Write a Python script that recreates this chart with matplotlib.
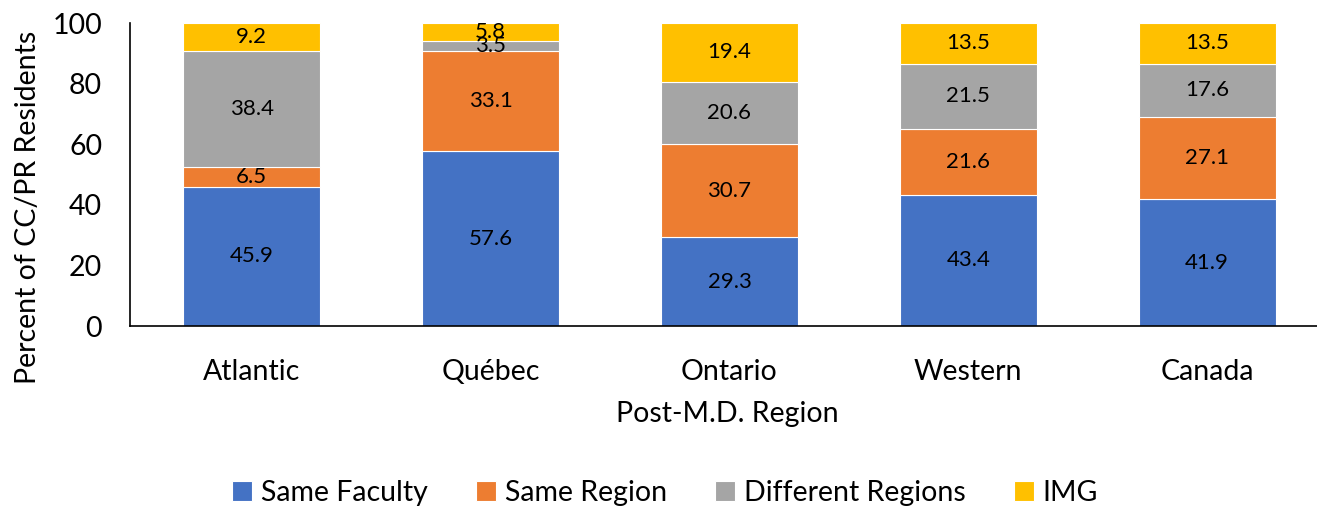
import numpy as np
import matplotlib.pyplot as plt

plt.rcParams['font.family'] = ['Lato', 'DejaVu Sans']

# ---- data ----
regions = ["Atlantic", "Québec", "Ontario", "Western", "Canada"]
same_faculty = [45.9, 57.6, 29.3, 43.4, 41.9]
same_region = [6.5, 33.1, 30.7, 21.6, 27.1]
diff_regions = [38.4, 3.5, 20.6, 21.5, 17.6]
img = [9.2, 5.8, 19.4, 13.5, 13.5]

series = [
    ("Same Faculty", same_faculty, "#4472C4"),
    ("Same Region", same_region, "#ED7D31"),
    ("Different Regions", diff_regions, "#A5A5A5"),
    ("IMG", img, "#FFC000"),
]

fig = plt.figure(figsize=(13.17, 5.07), dpi=100)
ax = fig.add_axes([0.0987, 0.357, 0.9013, 0.5976])

x = np.arange(len(regions))
bottom = np.zeros(len(regions))
handles = []
for name, vals, col in series:
    vals = np.array(vals)
    bars = ax.bar(x, vals, width=0.573, bottom=bottom, color=col,
                  edgecolor="white", linewidth=0.8, label=name)
    handles.append(bars)
    for xi, b, v in zip(x, bottom, vals):
        ax.text(xi, b + v / 2, f"{v:.1f}", ha="center", va="center",
                fontsize=16, color="black")
    bottom += vals

ax.set_xlim(-0.51, 4.46)
ax.set_ylim(0, 100)
ax.set_yticks(range(0, 101, 20))
ax.set_xticks(x)
ax.set_xticklabels(regions)
ax.tick_params(axis="both", length=0, labelsize=20.5)
ax.tick_params(axis="x", pad=24)
ax.tick_params(axis="y", pad=20)
for s in ["top", "right"]:
    ax.spines[s].set_visible(False)
ax.spines["left"].set_linewidth(1.2)
ax.spines["bottom"].set_linewidth(1.2)

fig.text(0.552, 0.183, "Post-M.D. Region", ha="center", va="center", fontsize=20.5)
fig.text(0.021, 0.59, "Percent of CC/PR Residents", ha="center", va="center",
         rotation=90, fontsize=20.5)

fig.legend(handles=handles, loc="center", bbox_to_anchor=(0.505, 0.027),
           ncol=4, frameon=False, fontsize=20.5, handlelength=0.7,
           handleheight=0.7, handletextpad=0.3, columnspacing=1.7)

fig.savefig("out.png", dpi=100)
